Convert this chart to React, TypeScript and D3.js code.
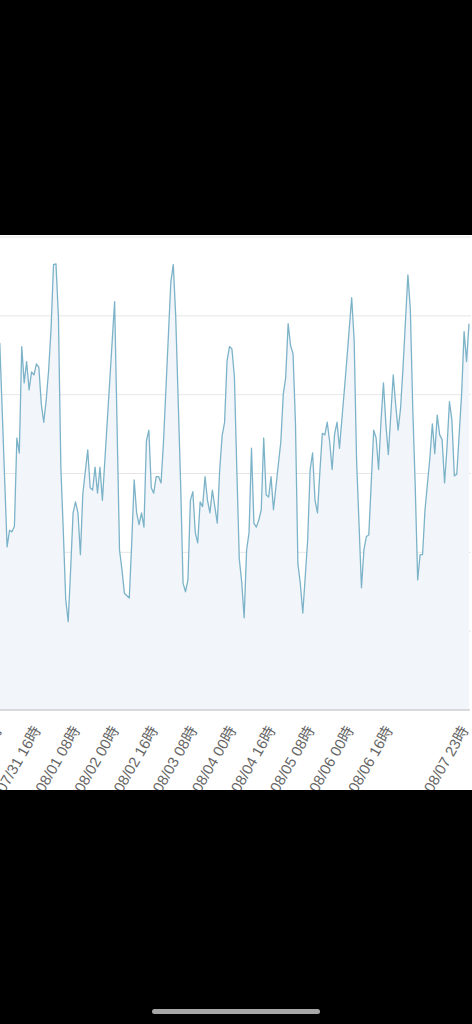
import { useMemo } from 'react';
import * as d3 from 'd3';

// Hours after 07/31 00:00 for each sample, and the value read at that hour
const hourOffsets = [
    -1, 2, 3, 4, 5, 6, 7, 8, 9, 10, 11, 12, 13, 14, 15, 16, 17, 18, 19, 20,
    21, 22, 23, 24, 25, 26, 27, 28, 29, 30, 31, 32, 33, 35, 36, 37, 38, 39, 40, 41,
    46, 48, 49, 50, 52, 53, 54, 55, 56, 57, 58, 59, 60, 61, 62, 63, 64, 65, 66, 69,
    70, 71, 73, 74, 75, 76, 77, 78, 79, 80, 81, 82, 83, 84, 85, 86, 88, 89, 90, 91,
    92, 93, 94, 95, 96, 97, 98, 99, 100, 101, 102, 103, 104, 105, 106, 107, 108, 109, 110, 111,
    113, 114, 115, 116, 117, 118, 119, 120, 121, 122, 123, 125, 126, 127, 128, 129, 130, 131, 132, 133,
    134, 135, 136, 137, 138, 140, 141, 143, 144, 145, 147, 148, 149, 150, 151, 152, 153, 154, 155, 156,
    157, 158, 159, 160, 161, 162, 163, 164, 166, 167, 168, 169, 170, 171, 172, 173, 175, 176, 177, 178,
    179, 180, 181, 182, 183, 184, 185, 186, 188, 189, 190, 191,
];
const values = [
    46.6, 20.7, 22.8, 22.6, 23.3, 34.5, 32.6, 46.1, 41.5, 44.2, 40.6, 42.9, 42.5, 43.9, 43.5, 38.8, 36.5, 39.3, 43.1, 48.4,
    56.5, 56.6, 49.9, 30.8, 22.7, 14.0, 11.2, 17.8, 25.0, 26.4, 25.0, 19.7, 27.5, 33.0, 28.2, 27.9, 30.8, 27.5, 30.8, 26.6,
    51.8, 20.3, 17.8, 14.8, 14.2, 21.2, 29.2, 25.0, 23.5, 25.0, 23.2, 34.1, 35.5, 28.2, 27.5, 29.6, 29.6, 28.8, 34.0, 54.3,
    56.5, 49.9, 28.8, 16.1, 15.0, 16.5, 26.6, 27.7, 22.5, 21.2, 26.4, 25.8, 29.6, 26.6, 25.0, 27.9, 23.7, 30.5, 34.8, 36.5,
    44.3, 46.1, 45.8, 42.3, 30.5, 19.2, 16.2, 11.7, 20.3, 22.5, 33.2, 23.7, 23.2, 24.1, 25.4, 34.5, 27.3, 27.0, 29.6, 25.4,
    31.2, 34.0, 40.0, 42.2, 49.0, 46.2, 45.2, 36.3, 18.5, 16.0, 12.3, 21.6, 30.5, 32.6, 26.6, 25.0, 30.3, 35.1, 34.9, 36.5,
    34.0, 30.5, 35.0, 36.5, 33.2, 40.6, 44.4, 52.3, 47.0, 31.7, 15.5, 20.3, 22.0, 22.2, 28.8, 35.5, 34.5, 30.5, 36.7, 41.5,
    36.2, 32.4, 37.4, 42.5, 38.7, 35.5, 38.3, 43.4, 55.2, 50.8, 38.1, 28.4, 16.5, 19.7, 19.7, 25.4, 32.0, 36.3, 32.5, 37.4,
    34.9, 34.3, 28.8, 33.3, 39.1, 36.8, 29.7, 29.9, 40.2, 48.0, 44.2, 49.0,
];

// Labelled ticks, in hours after 07/31 00:00
const tickHours = [0, 16, 32, 48, 64, 80, 96, 112, 128, 144, 160, 191];
const gridValues = [10, 20, 30, 40, 50, 60];

const width = 472;
const pageHeight = 1024;
const panelTop = 235;
const panelBottom = 790;
const plotLeft = 2.2;
const plotRight = 469;
const plotTop = 237;
const plotBottom = 710;

const start = new Date(2024, 6, 31, 0);
const formatTick = d3.timeFormat('%m/%d %H時');

const App = () => {
    const points = useMemo(
        () =>
            hourOffsets.map((h, i) => ({
                date: d3.timeHour.offset(start, h),
                value: values[i],
            })),
        []
    );

    const x = d3
        .scaleTime()
        .domain([start, d3.timeHour.offset(start, 191)])
        .range([plotLeft, plotRight]);
    const y = d3.scaleLinear().domain([0, 60]).range([plotBottom, plotTop]);

    const area = d3
        .area<{ date: Date; value: number }>()
        .x(d => x(d.date))
        .y0(y(0))
        .y1(d => y(d.value));
    const line = d3
        .line<{ date: Date; value: number }>()
        .x(d => x(d.date))
        .y(d => y(d.value));

    const ticks = tickHours.map(h => d3.timeHour.offset(start, h));

    return (
        <div
            style={{
                position: 'fixed',
                left: 0,
                top: 0,
                width,
                height: pageHeight,
                background: '#000',
            }}
        >
            <svg width={width} height={pageHeight} style={{ display: 'block' }}>
                <defs>
                    <clipPath id="panel">
                        <rect x={0} y={panelTop} width={width} height={panelBottom - panelTop} />
                    </clipPath>
                </defs>
                <rect x={0} y={panelTop} width={width} height={panelBottom - panelTop} fill="#fff" />

                {/* gridlines sit behind the filled area */}
                {gridValues.map(v => (
                    <line
                        key={v}
                        x1={0}
                        x2={plotRight + 2}
                        y1={y(v)}
                        y2={y(v)}
                        stroke="#e6e6e6"
                        strokeWidth={1}
                    />
                ))}

                <path d={area(points) ?? ''} fill="#f2f6fb" />

                <line x1={0} x2={plotRight + 1} y1={y(0)} y2={y(0)} stroke="#b8b8b8" strokeWidth={1} />

                <path
                    d={line(points) ?? ''}
                    fill="none"
                    stroke="#7cb3c8"
                    strokeWidth={1.3}
                    strokeLinejoin="round"
                />

                {/* the page crops the labels at the panel's bottom edge */}
                <g clipPath="url(#panel)">
                    {ticks.map(t => (
                        <text
                            key={t.getTime()}
                            transform={`translate(${x(t)},${plotBottom + 20}) rotate(-60)`}
                            textAnchor="end"
                            fontFamily="'Liberation Sans', 'Noto Sans CJK JP', sans-serif"
                            fontSize={15}
                            fill="#666"
                        >
                            {formatTick(t)}
                        </text>
                    ))}
                </g>

                <rect x={152} y={1009} width={168} height={5} rx={2.5} fill="#a6a6a6" />
            </svg>
        </div>
    );
};

export default App;
